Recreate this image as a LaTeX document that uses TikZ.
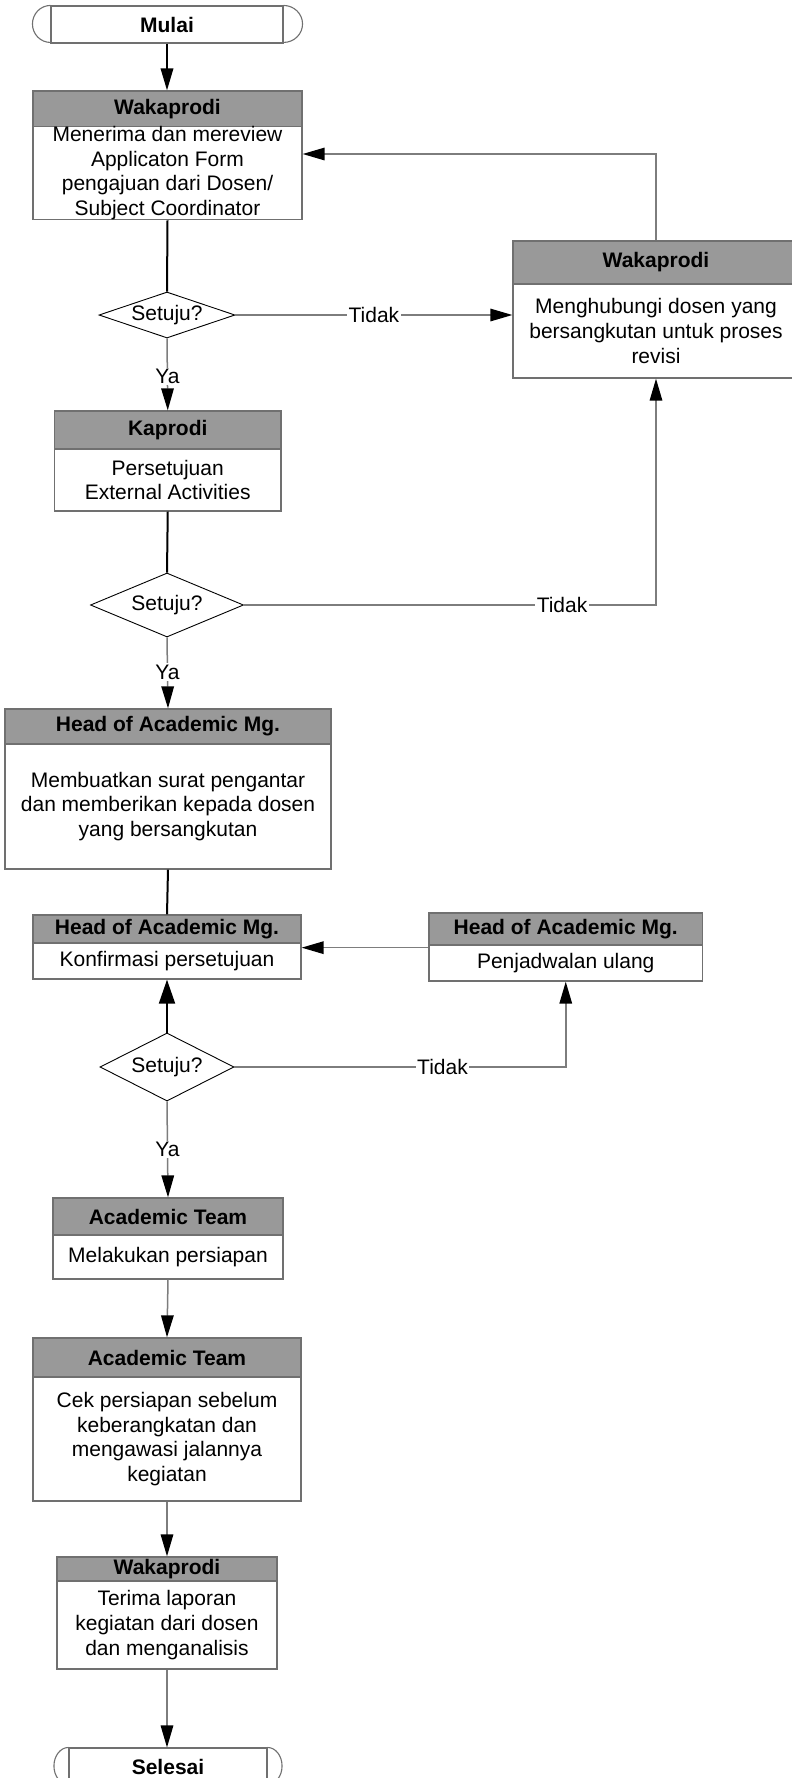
\documentclass[tikz,border=0pt]{standalone}
\usepackage{fontspec}
\setmainfont{Liberation Sans}
\usetikzlibrary{arrows.meta,shapes.geometric}
\definecolor{hdr}{RGB}{153,153,153}
\definecolor{bord}{RGB}{112,112,112}
\definecolor{lgray}{RGB}{125,125,125}
\begin{document}
\begin{tikzpicture}[x=1pt,y=-1pt,
  every node/.style={font=\fontsize{21}{24.7}\selectfont},
  hdrbox/.style={draw=bord, line width=1.3pt, fill=hdr, inner sep=0pt, font=\fontsize{21}{24.7}\selectfont\bfseries},
  bodybox/.style={draw=bord, line width=1.3pt, fill=white, inner sep=0pt, align=center},
  termbox/.style={draw=bord, line width=1.1pt, inner sep=0pt, font=\fontsize{21}{24.7}\selectfont\bfseries},
  termarc/.style={draw=bord, line width=1.1pt},
  decision/.style={diamond, aspect=3, draw=black, line width=0.9pt, inner sep=0pt},
  bline/.style={draw=black, line width=2pt},
  gline/.style={draw=lgray, line width=1.5pt},
  arr/.style={-{Triangle[length=22pt,width=12.5pt,color=black]}},
  bigarr/.style={-{Triangle[length=24pt,width=16pt,color=black]}},
  lbl/.style={fill=white, inner sep=1.5pt}
]
\path[use as bounding box, clip] (0,0) rectangle (792,1778);
\fill[white] (0,0) rectangle (792,1778);

% Start
\node[termbox, minimum width=232pt, minimum height=37pt] (m) at (167,24.5) {Mulai};
\draw[termarc] (m.north west) arc[start angle=90, end angle=270, x radius=18pt, y radius=18.5pt];
\draw[termarc] (m.north east) arc[start angle=90, end angle=-90, x radius=19pt, y radius=18.5pt];

% Box 1
\node[hdrbox, minimum width=269pt, minimum height=36pt] (b1h) at (167.5,109) {Wakaprodi};
\node[bodybox, minimum width=269pt, minimum height=92pt] (b1) at (167.5,173) {Menerima dan mereview\\Applicaton Form\\pengajuan dari Dosen/\\Subject Coordinator};

% Right box
\node[hdrbox, minimum width=286pt, minimum height=43pt] (b2h) at (656,262.5) {Wakaprodi};
\node[bodybox, minimum width=286pt, minimum height=94pt] (b2) at (656,331) {Menghubungi dosen yang\\bersangkutan untuk proses\\revisi};

% Kaprodi
\node[hdrbox, minimum width=226.5pt, minimum height=38pt] (b3h) at (167.75,430) {Kaprodi};
\node[bodybox, minimum width=226.5pt, minimum height=62pt] (b3) at (167.75,480) {Persetujuan\\External Activities};

% Head of Academic 1
\node[hdrbox, minimum width=326pt, minimum height=35pt] (b4h) at (168,726.5) {Head of Academic Mg.};
\node[bodybox, minimum width=326pt, minimum height=125pt] (b4) at (168,806.5) {Membuatkan surat pengantar\\dan memberikan kepada dosen\\yang bersangkutan};

% Konfirmasi
\node[hdrbox, minimum width=268pt, minimum height=28pt] (b5h) at (167,929) {Head of Academic Mg.};
\node[bodybox, minimum width=268pt, minimum height=36pt] (b5) at (167,961) {Konfirmasi persetujuan};

% Penjadwalan
\node[hdrbox, minimum width=273.5pt, minimum height=32pt] (b6h) at (565.75,929) {Head of Academic Mg.};
\node[bodybox, minimum width=273.5pt, minimum height=36pt] (b6) at (565.75,963) {Penjadwalan ulang};

% Academic Team 1
\node[hdrbox, minimum width=230pt, minimum height=37pt] (b7h) at (168,1216.5) {Academic Team};
\node[bodybox, minimum width=230pt, minimum height=44pt] (b7) at (168,1257) {Melakukan persiapan};

% Academic Team 2
\node[hdrbox, minimum width=268pt, minimum height=39pt] (b8h) at (167,1357.5) {Academic Team};
\node[bodybox, minimum width=268pt, minimum height=124pt] (b8) at (167,1439) {Cek persiapan sebelum\\keberangkatan dan\\mengawasi jalannya\\kegiatan};

% Wakaprodi last
\node[hdrbox, minimum width=220pt, minimum height=24pt] (b9h) at (167,1569) {Wakaprodi};
\node[bodybox, minimum width=220pt, minimum height=88pt] (b9) at (167,1625) {Terima laporan\\kegiatan dari dosen\\dan menganalisis};

% End
\node[termbox, minimum width=198pt, minimum height=37pt] (s) at (168,1766.5) {Selesai};
\draw[termarc] (s.north west) arc[start angle=90, end angle=270, x radius=14.5pt, y radius=18.5pt];
\draw[termarc] (s.north east) arc[start angle=90, end angle=-90, x radius=14.5pt, y radius=18.5pt];

% Decisions
\node[decision, minimum width=136pt, minimum height=46pt] (d1) at (167,315) {Setuju?};
\node[decision, minimum width=153pt, minimum height=64pt] (d2) at (167,605) {Setuju?};
\node[decision, minimum width=134pt, minimum height=68pt] (d3) at (167,1067) {Setuju?};

% Connectors
\draw[bline, arr] (m.south) -- (m.south |- b1h.north);
\draw[bline] (b1.south) -- (d1.north);
\draw[gline, arr] (d1.south) -- node[lbl, pos=0.53] {Ya} (b3h.north);
\draw[gline, arr] (d1.east) -- node[lbl, pos=0.5] {Tidak} (d1.east -| b2.west);
\coordinate (c1) at ([yshift=19pt]b1.east);
\draw[gline, arr] (b2h.north) |- (c1);

\draw[bline] (b3.south) -- (d2.north);
\draw[gline, arr] (d2.south) -- node[lbl, pos=0.49] {Ya} (b4h.north);
\draw[gline, arr] (d2.east) -| node[lbl, pos=0.386] {Tidak} (b2.south);

\draw[bline] (b4.south) -- (b5h.north);
\coordinate (c6) at ([yshift=-2pt]b6h.south west);
\draw[gline, arr] (c6) -- (c6 -| b5.east);
\draw[bline, bigarr] (d3.north) -- (b5.south);
\draw[gline, arr] (d3.east) -| node[lbl, pos=0.314] {Tidak} (b6.south);
\draw[gline, arr] (d3.south) -- node[lbl, pos=0.5] {Ya} (b7h.north);

\draw[gline, arr] (b7.south) -- (b8h.north);
\draw[gline, arr] (b8.south) -- (b9h.north);
\draw[gline, arr] (b9.south) -- (b9.south |- s.north);
\end{tikzpicture}
\end{document}
